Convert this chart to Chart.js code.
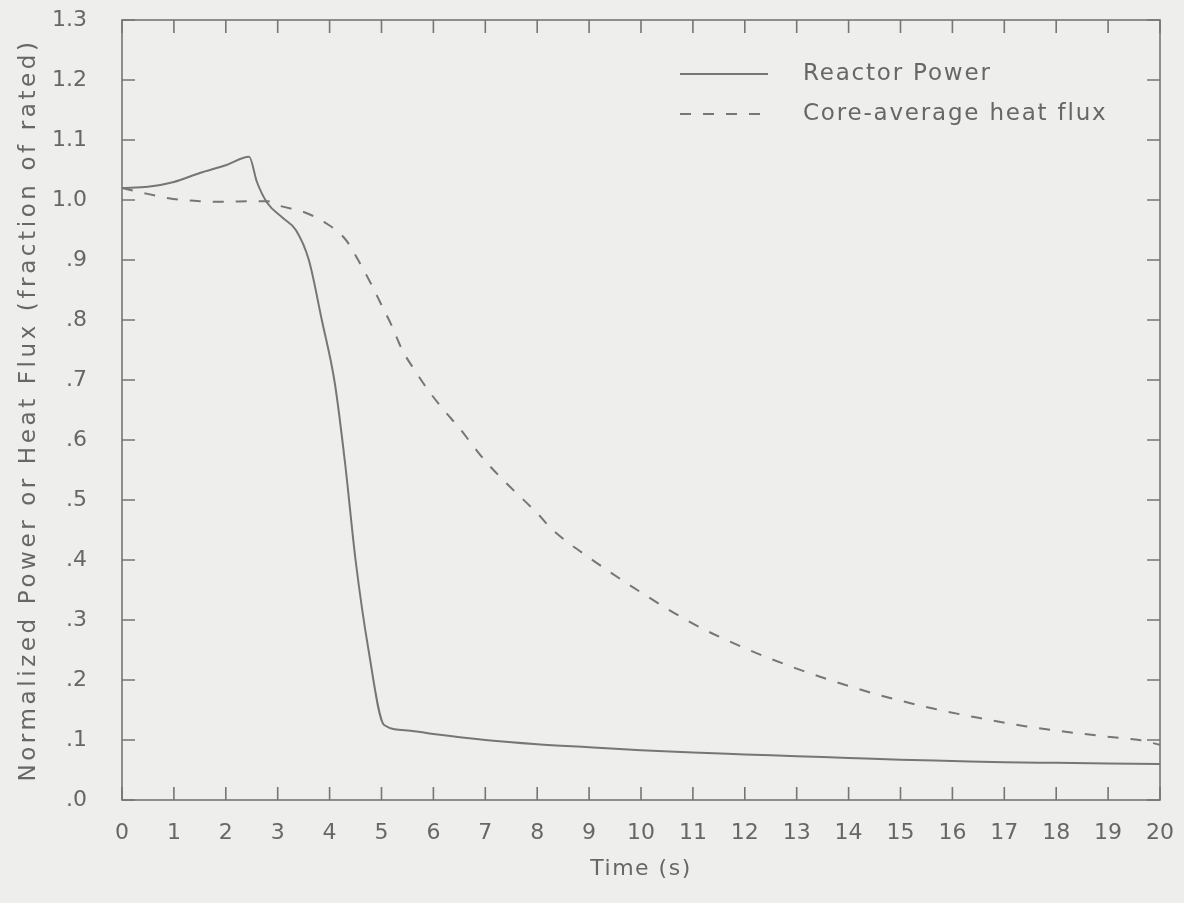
<!DOCTYPE html>
<html>
<head>
<meta charset="utf-8">
<script src="https://cdn.jsdelivr.net/npm/chart.js@4.4.1/dist/chart.umd.min.js"></script>
<style>
  html, body { margin: 0; padding: 0; background: #eeeeec; }
  #wrap { width: 1184px; height: 903px; }
</style>
</head>
<body>
<div id="wrap"><canvas id="powerChart" width="1184" height="903"></canvas></div>
<script>
// Reactor power / heat flux transient
const powerTime   = [0, 0.5, 1, 1.5, 2, 2.45, 2.6, 2.8, 3.1, 3.35, 3.6, 3.85, 4.1, 4.3, 4.5, 4.75, 5.05, 5.5, 6, 7, 8, 9, 10, 11, 12, 13, 14, 15, 16, 17, 18, 19, 20];
const powerValues = [1.02, 1.022, 1.03, 1.045, 1.058, 1.072, 1.03, 0.995, 0.97, 0.95, 0.90, 0.80, 0.695, 0.56, 0.40, 0.25, 0.125, 0.116, 0.11, 0.10, 0.093, 0.088, 0.083, 0.079, 0.076, 0.073, 0.07, 0.067, 0.065, 0.063, 0.062, 0.061, 0.06];

const fluxTime   = [0, 0.35, 0.9, 1.5, 2, 2.5, 2.8, 3.05, 3.5, 3.9, 4.3, 4.55, 4.8, 5.0, 5.2, 5.4, 5.65, 5.9, 6.2, 6.5, 6.75, 7, 7.5, 8, 8.3, 9, 10, 11, 12, 13, 14, 14.8, 15.65, 16.5, 17.4, 18.25, 19.15, 19.6, 20];
const fluxValues = [1.02, 1.013, 1.003, 0.998, 0.997, 0.998, 0.998, 0.99, 0.98, 0.963, 0.935, 0.90, 0.86, 0.825, 0.79, 0.75, 0.715, 0.683, 0.65, 0.62, 0.592, 0.565, 0.52, 0.478, 0.45, 0.404, 0.346, 0.294, 0.253, 0.219, 0.19, 0.17, 0.152, 0.137, 0.123, 0.113, 0.104, 0.1, 0.092];

const seriesLabels = ["Reactor Power", "Core-average heat flux"];
const xTitle = "Time (s)";
const yTitle = "Normalized Power or Heat Flux (fraction of rated)";

const ink = "#676767";
const lineInk = "#767676";
const font = "DejaVu Sans";

const toPoints = (xs, ys) => xs.map((x, i) => ({ x: x, y: ys[i] }));

// -------------------------------
// frame, inward ticks, titles, legend
// -------------------------------
const framePlugin = {
  id: "frame",
  afterDraw(chart) {
    const { ctx, chartArea: a, scales } = chart;
    const xs = scales.x, ys = scales.y;
    const len = 13;
    ctx.save();
    ctx.strokeStyle = lineInk;
    ctx.lineWidth = 1.6;
    ctx.strokeRect(a.left, a.top, a.right - a.left, a.bottom - a.top);
    ctx.beginPath();
    xs.ticks.forEach(t => {
      const px = xs.getPixelForValue(t.value);
      ctx.moveTo(px, a.bottom); ctx.lineTo(px, a.bottom - len);
      ctx.moveTo(px, a.top); ctx.lineTo(px, a.top + len);
    });
    ys.ticks.forEach(t => {
      const py = ys.getPixelForValue(t.value);
      ctx.moveTo(a.left, py); ctx.lineTo(a.left + len, py);
      ctx.moveTo(a.right, py); ctx.lineTo(a.right - len, py);
    });
    ctx.stroke();

    // axis titles
    ctx.fillStyle = ink;
    ctx.textAlign = "center";
    ctx.textBaseline = "middle";
    ctx.font = "22px '" + font + "'";
    ctx.letterSpacing = "1.5px";
    ctx.fillText(xTitle, (a.left + a.right) / 2, 869);
    ctx.font = "23px '" + font + "'";
    ctx.letterSpacing = "3.6px";
    ctx.save();
    ctx.translate(29, (a.top + a.bottom) / 2);
    ctx.rotate(-Math.PI / 2);
    ctx.fillText(yTitle, 0, 0);
    ctx.restore();

    // legend
    ctx.font = "23px '" + font + "'";
    ctx.letterSpacing = "1.8px";
    ctx.textAlign = "left";
    chart.data.datasets.forEach((ds, i) => {
      const y = 74 + i * 40;
      ctx.strokeStyle = ds.borderColor;
      ctx.lineWidth = ds.borderWidth;
      ctx.setLineDash(ds.borderDash || []);
      ctx.beginPath();
      ctx.moveTo(680, y); ctx.lineTo(768, y);
      ctx.stroke();
      ctx.setLineDash([]);
      ctx.fillText(ds.label, 803, y);
    });
    ctx.restore();
  }
};

new Chart(document.getElementById("powerChart"), {
  type: "line",
  data: {
    datasets: [
      {
        label: seriesLabels[0],
        data: toPoints(powerTime, powerValues),
        borderColor: lineInk,
        borderWidth: 2,
        pointRadius: 0,
        cubicInterpolationMode: "monotone",
        fill: false
      },
      {
        label: seriesLabels[1],
        data: toPoints(fluxTime, fluxValues),
        borderColor: lineInk,
        borderWidth: 2,
        borderDash: [11, 12],
        pointRadius: 0,
        cubicInterpolationMode: "monotone",
        fill: false
      }
    ]
  },
  options: {
    responsive: false,
    animation: false,
    layout: { padding: { left: 0, top: 20, right: 24, bottom: 0 } },
    plugins: { legend: { display: false }, tooltip: { enabled: false } },
    scales: {
      x: {
        type: "linear",
        min: 0, max: 20,
        // tick marks are drawn inward by the frame plugin; tickLength only spaces the labels
        grid: { display: false, drawTicks: true, tickLength: 20 },
        border: { display: false },
        ticks: {
          stepSize: 1,
          padding: 0,
          color: ink,
          font: { family: font, size: 22 },
          maxRotation: 0
        },
        afterFit(scale) { scale.height = 103; }
      },
      y: {
        min: 0, max: 1.3,
        grid: { display: false, drawTicks: true, tickLength: 35 },
        border: { display: false },
        ticks: {
          stepSize: 0.1,
          padding: 0,
          color: ink,
          font: { family: font, size: 22 },
          callback(v) {
            const r = Math.round(v * 10) / 10;
            return r >= 1 ? r.toFixed(1) : "." + Math.round(r * 10);
          }
        },
        afterFit(scale) { scale.width = 122; }
      }
    }
  },
  plugins: [framePlugin]
});
</script>
</body>
</html>
